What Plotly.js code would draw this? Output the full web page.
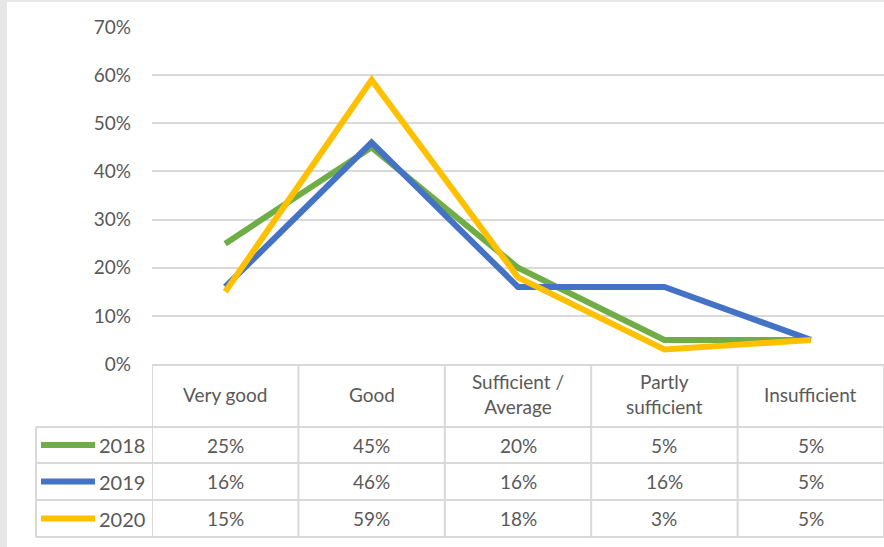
<!DOCTYPE html>
<html>
<head>
<meta charset="utf-8">
<script src="https://cdn.plot.ly/plotly-3.0.1.min.js"></script>
<style>html,body{margin:0;padding:0;background:#fff;}#chart{width:884px;height:547px;}</style>
</head>
<body>
<div id="chart"></div>
<script>
// ---- data ----
const categories = ["Very good", "Good", "Sufficient / Average", "Partly sufficient", "Insufficient"];
const headerLabels = ["Very good", "Good", "Sufficient /<br>Average", "Partly<br>sufficient", "Insufficient"];
const seriesNames = ["2018", "2019", "2020"];
const values2018 = [0.25, 0.45, 0.20, 0.05, 0.05];
const values2019 = [0.16, 0.46, 0.16, 0.16, 0.05];
const values2020 = [0.15, 0.59, 0.18, 0.03, 0.05];
const yTickVals = [0, 0.1, 0.2, 0.3, 0.4, 0.5, 0.6, 0.7];

// ---- styles ----
const colors = ["#70AD47", "#4472C4", "#FFC000"];
const allValues = [values2018, values2019, values2020];
const W = 884, H = 547;
const px = x => x / W;
const py = y => 1 - y / H;
const textColor = "#595959";
const gridColor = "#d9d9d9";
const FONT = "Lato, 'Open Sans', sans-serif";

const traces = allValues.map((vals, i) => ({
  type: "scatter", mode: "lines",
  x: categories, y: vals, name: seriesNames[i],
  line: {color: colors[i], width: 6},
  hoverinfo: "skip", showlegend: false
}));

// table geometry (pixels)
const headTop = 365, rowLines = [427, 463, 500, 537];
const tableLeft = 36;
const shapes = [];
const annotations = [];
// gray frame strips
shapes.push({type: "rect", xref: "paper", yref: "paper", x0: 0, x1: px(7), y0: 0, y1: 1, fillcolor: "#e7e7e7", line: {width: 0}, layer: "below"});
shapes.push({type: "rect", xref: "paper", yref: "paper", x0: 0, x1: 1, y0: py(2), y1: 1, fillcolor: "#e7e7e7", line: {width: 0}, layer: "below"});
// horizontal table lines
shapes.push({type: "line", xref: "x", yref: "paper", x0: -0.5, x1: categories.length - 0.5, y0: py(headTop), y1: py(headTop), line: {color: gridColor, width: 2}});
rowLines.forEach(y => {
  shapes.push({type: "line", xref: "paper", yref: "paper", x0: px(tableLeft), x1: 1, y0: py(y), y1: py(y), line: {color: gridColor, width: 2}});
});
// vertical table lines
for (let k = 0; k <= categories.length; k++) {
  shapes.push({type: "line", xref: "x", yref: "paper", x0: k - 0.5, x1: k - 0.5, y0: py(headTop), y1: py(rowLines[3]), line: {color: gridColor, width: 2}});
}
shapes.push({type: "line", xref: "paper", yref: "paper", x0: px(tableLeft), x1: px(tableLeft), y0: py(rowLines[0]), y1: py(rowLines[3]), line: {color: gridColor, width: 2}});

// header labels
headerLabels.forEach((lab, j) => {
  annotations.push({xref: "x", yref: "paper", x: categories[j], y: py((headTop + rowLines[0]) / 2 - 2), text: lab, showarrow: false, font: {family: FONT, size: 19, color: textColor}, xanchor: "center", yanchor: "middle"});
});
// rows
allValues.forEach((vals, i) => {
  const yc = (rowLines[i] + rowLines[i + 1]) / 2;
  shapes.push({type: "line", xref: "paper", yref: "paper", x0: px(41), x1: px(95), y0: py(yc), y1: py(yc), line: {color: colors[i], width: 6}});
  annotations.push({xref: "paper", yref: "paper", x: px(147), y: py(yc), text: seriesNames[i], showarrow: false, xanchor: "right", yanchor: "middle", font: {family: FONT, size: 20, color: textColor}});
  vals.forEach((v, j) => {
    annotations.push({xref: "x", yref: "paper", x: categories[j], y: py(yc), text: Math.round(v * 100) + "%", showarrow: false, xanchor: "center", yanchor: "middle", font: {family: FONT, size: 19, color: textColor}});
  });
});

const layout = {
  width: W, height: H,
  margin: {l: 0, r: 0, t: 0, b: 0},
  paper_bgcolor: "#ffffff", plot_bgcolor: "#ffffff",
  showlegend: false,
  xaxis: {type: "category", domain: [px(152), 1], range: [-0.5, categories.length - 0.5], showticklabels: false, showgrid: false, zeroline: false, showline: false, fixedrange: true},
  yaxis: {domain: [py(364), py(27)], range: [0, 0.7], tickvals: yTickVals, tickformat: ".0%", showgrid: true, gridcolor: gridColor, gridwidth: 2, zeroline: false, showline: false, ticks: "", ticklabelstandoff: 20, tickfont: {family: FONT, size: 19, color: textColor}, automargin: false, fixedrange: true},
  shapes: shapes,
  annotations: annotations
};

Plotly.newPlot("chart", traces, layout, {displayModeBar: false, staticPlot: true});
</script>
</body>
</html>
